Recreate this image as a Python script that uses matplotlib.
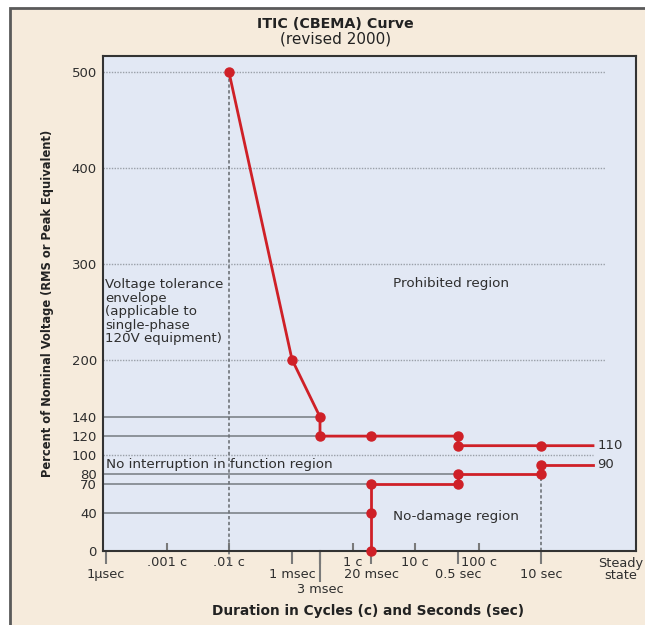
import numpy as np
import matplotlib
matplotlib.use('Agg')
import matplotlib.pyplot as plt
from matplotlib.patches import Rectangle

plt.rcParams['font.family'] = ['DejaVu Sans']

# durations in seconds (1 cycle = 1/60 s)
CYC = 1 / 60
STEADY = 100.0  # where the steady-state lines end

# upper envelope
upper_t = [0.01 * CYC, 1e-3, 3e-3, 3e-3, 20e-3, 0.5, 0.5, 10, STEADY]
upper_v = [500, 200, 140, 120, 120, 120, 110, 110, 110]
# lower envelope
lower_t = [20e-3, 20e-3, 20e-3, 0.5, 0.5, 10, 10, STEADY]
lower_v = [0, 40, 70, 70, 80, 80, 90, 90]

# solid reference levels and where they stop
ref_levels = [140, 120, 80, 70, 40]
ref_ends = [3e-3, 3e-3, 0.5, 20e-3, 20e-3]

y_ticks = [0, 40, 70, 80, 100, 120, 140, 200, 300, 400, 500]
sec_ticks = [1e-6, 1e-3, 3e-3, 20e-3, 0.5, 10]
sec_labels = ['1\u00b5sec', '1 msec', '\n3 msec', '20 msec', '0.5 sec', '10 sec']
cyc_ticks = [0.001 * CYC, 0.01 * CYC, 1 * CYC, 10 * CYC, 100 * CYC]
cyc_labels = ['.001 c', '.01 c', '1 c', '10 c', '100 c']

# the original chart is only roughly logarithmic: piecewise log mapping
anchor_log = np.log10([1e-7, 1e-6, 0.001 * CYC, 0.01 * CYC, 1e-3, 3e-3, CYC, 20e-3,
                       10 * CYC, 0.5, 100 * CYC, 10, 100, 1000])
anchor_pos = np.array([56, 106, 167, 229, 292, 320, 353, 371, 415, 458, 479, 541, 593, 636], float)


def fwd(x):
    x = np.clip(np.asarray(x, float), 1e-12, None)
    return np.interp(np.log10(x), anchor_log, anchor_pos)


def inv(p):
    return 10 ** np.interp(np.asarray(p, float), anchor_pos, anchor_log)


RED = '#cf2027'
GRAY = '#8c9299'
TXT = '#2e2e2e'

fig = plt.figure(figsize=(6.45, 6.25), dpi=100, facecolor='white')
fig.patches.append(Rectangle((10 / 645, -0.1), 1.2, (625 - 8) / 625 + 0.1, transform=fig.transFigure,
                             facecolor='#f6ebdc', edgecolor='#5a5a5a', linewidth=2, zorder=-10))

ax = fig.add_axes([103 / 645, 74 / 625, 533 / 645, 495 / 625])
ax.set_facecolor('#e2e8f4')
ax.set_xscale('function', functions=(fwd, inv))
ax.set_xlim(inv(103), 1000)
ax.set_ylim(0, 517)

for s in ax.spines.values():
    s.set_color('#333333')
    s.set_linewidth(1.5)

# dotted grid
for v in [200, 300, 400, 500]:
    ax.axhline(v, xmax=0.942, color='#9aa0a8', lw=1, ls=(0, (1, 1)), zorder=1)
ax.axhline(100, xmax=0.919, color='#9aa0a8', lw=1, ls=(0, (1, 1)), zorder=1)

# solid reference levels
ax.hlines(ref_levels, inv(103), ref_ends, color=GRAY, lw=1.4, zorder=2)

# vertical dashed markers
ax.axvline(0.01 * CYC, ymin=-0.03, ymax=500 / 517, color='#6e7378', lw=1.2,
           ls=(0, (2, 1.5)), zorder=2, clip_on=False)
ax.axvline(10, ymin=0, ymax=80 / 517, color='#6e7378', lw=1.2, ls=(0, (2, 1.5)), zorder=2)

ax.plot(upper_t, upper_v, color=RED, lw=2, zorder=3)
ax.plot(lower_t, lower_v, color=RED, lw=2, zorder=3)
ax.plot(upper_t[:-1], upper_v[:-1], 'o', color=RED, ms=6.5, zorder=4, clip_on=False)
ax.plot(lower_t[:-1], lower_v[:-1], 'o', color=RED, ms=6.5, zorder=4, clip_on=False)

ax.annotate('110', (STEADY, 110), xytext=(3, 0), textcoords='offset points',
            va='center', ha='left', fontsize=9.5, color=TXT)
ax.annotate('90', (STEADY, 90), xytext=(3, 0), textcoords='offset points',
            va='center', ha='left', fontsize=9.5, color=TXT)

# axes ticks
ax.set_yticks(y_ticks)
ax.tick_params(axis='y', length=0, pad=4.5, labelsize=9.5, labelcolor=TXT)
ax.set_xticks(sec_ticks, sec_labels)
ax.set_xticks(cyc_ticks, cyc_labels, minor=True)
ax.tick_params(axis='x', which='major', direction='out', length=9.5, width=1.5,
               color='#7a7a7a', pad=2.5, labelsize=9.3, labelcolor=TXT)
ax.tick_params(axis='x', which='minor', direction='in', length=6, width=1.5,
               color='#7a7a7a', pad=3.5, labelsize=9.3, labelcolor=TXT)
ax.axvline(3e-3, ymin=-0.06, ymax=0, color='#7a7a7a', lw=1.5, clip_on=False)

# region labels
ax.text(inv(105), 285, 'Voltage tolerance\nenvelope\n(applicable to\nsingle-phase\n120V equipment)',
        ha='left', va='top', fontsize=9.6, color=TXT, linespacing=1.05)
ax.text(inv(393), 279, 'Prohibited region', ha='left', va='center', fontsize=9.7, color=TXT)
ax.text(inv(106), 90, 'No interruption in function region', ha='left', va='center',
        fontsize=9.7, color=TXT)
ax.text(inv(393), 36, 'No-damage region', ha='left', va='center', fontsize=9.7, color=TXT)
ax.text(0.972, -0.012, 'Steady\nstate', transform=ax.transAxes, ha='center', va='top',
        fontsize=9.3, color=TXT, linespacing=0.9)

fig.text(335 / 645, 1 - 24 / 625, 'ITIC (CBEMA) Curve', ha='center', va='center',
         fontsize=10.3, fontweight='bold', color='#222222')
fig.text(336 / 645, 1 - 39 / 625, '(revised 2000)', ha='center', va='center',
         fontsize=11, color='#222222')
fig.text(48 / 645, 1 - 303 / 625, 'Percent of Nominal Voltage (RMS or Peak Equivalent)',
         rotation=90, ha='center', va='center', fontsize=8.3, fontweight='bold', color='#222222')
fig.text(368 / 645, 1 - 611 / 625, 'Duration in Cycles (c) and Seconds (sec)',
         ha='center', va='center', fontsize=9.9, fontweight='bold', color='#222222')

fig.savefig('out.png', dpi=100, facecolor=fig.get_facecolor())
